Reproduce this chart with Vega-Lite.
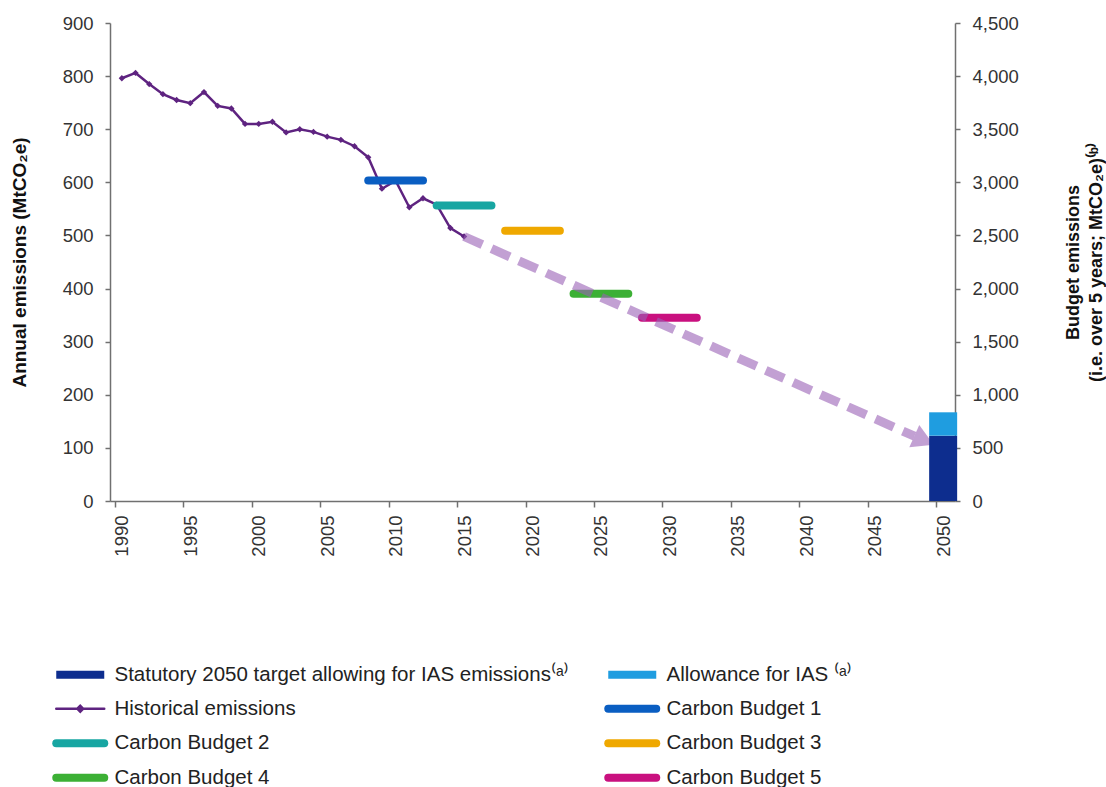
{
  "$schema": "https://vega.github.io/schema/vega-lite/v6.json",
  "width": 845,
  "height": 478,
  "autosize": {"type": "pad"},
  "padding": {"left": 10, "top": 14, "right": 2, "bottom": 2},
  "background": "white",
  "config": {
    "font": "Liberation Sans",
    "view": {"stroke": null},
    "axis": {
      "labelFont": "Liberation Sans",
      "labelFontSize": 18.5,
      "labelColor": "#333333",
      "titleFont": "Liberation Sans",
      "titleFontSize": 19,
      "titleFontWeight": "bold",
      "titleColor": "#111111",
      "domainColor": "#707070",
      "tickColor": "#707070",
      "domainWidth": 1.5,
      "tickWidth": 1.5,
      "grid": false
    }
  },
  "datasets": {
    "historical": [
      {"series": "Historical emissions", "year": 1990, "value": 796},
      {"series": "Historical emissions", "year": 1991, "value": 806},
      {"series": "Historical emissions", "year": 1992, "value": 785},
      {"series": "Historical emissions", "year": 1993, "value": 766},
      {"series": "Historical emissions", "year": 1994, "value": 755},
      {"series": "Historical emissions", "year": 1995, "value": 749},
      {"series": "Historical emissions", "year": 1996, "value": 770},
      {"series": "Historical emissions", "year": 1997, "value": 744},
      {"series": "Historical emissions", "year": 1998, "value": 739},
      {"series": "Historical emissions", "year": 1999, "value": 710},
      {"series": "Historical emissions", "year": 2000, "value": 710},
      {"series": "Historical emissions", "year": 2001, "value": 714},
      {"series": "Historical emissions", "year": 2002, "value": 694},
      {"series": "Historical emissions", "year": 2003, "value": 700},
      {"series": "Historical emissions", "year": 2004, "value": 695},
      {"series": "Historical emissions", "year": 2005, "value": 686},
      {"series": "Historical emissions", "year": 2006, "value": 680},
      {"series": "Historical emissions", "year": 2007, "value": 668},
      {"series": "Historical emissions", "year": 2008, "value": 647},
      {"series": "Historical emissions", "year": 2009, "value": 588},
      {"series": "Historical emissions", "year": 2010, "value": 603},
      {"series": "Historical emissions", "year": 2011, "value": 553},
      {"series": "Historical emissions", "year": 2012, "value": 570},
      {"series": "Historical emissions", "year": 2013, "value": 558},
      {"series": "Historical emissions", "year": 2014, "value": 514},
      {"series": "Historical emissions", "year": 2015, "value": 498}
    ],
    "budgets": [
      {"series": "Carbon Budget 1", "start": 2008, "end": 2012, "value": 603.6},
      {"series": "Carbon Budget 2", "start": 2013, "end": 2017, "value": 556.4},
      {"series": "Carbon Budget 3", "start": 2018, "end": 2022, "value": 508.8},
      {"series": "Carbon Budget 4", "start": 2023, "end": 2027, "value": 390},
      {"series": "Carbon Budget 5", "start": 2028, "end": 2032, "value": 345}
    ],
    "trajectory": [
      {"year": 2015, "value": 498},
      {"year": 2047.9, "value": 122}
    ],
    "arrowhead": [
      {"year": 2048.6, "value": 114}
    ],
    "target": [
      {"series": "Statutory 2050 target allowing for IAS emissions⁽ᵃ⁾", "year": 2050, "low": 0, "high": 615},
      {"series": "Allowance for IAS ⁽ᵃ⁾", "year": 2050, "low": 615, "high": 835}
    ]
  },
  "layer": [
    {
      "layer": [
        {
          "data": {"name": "historical"},
          "mark": {"type": "line", "strokeWidth": 2.5, "point": {"shape": "diamond", "size": 40, "filled": true}},
          "encoding": {
            "x": {"field": "year", "type": "quantitative", "scale": {"domain": [1989.5, 2050.5], "nice": false, "zero": false},
              "axis": {"title": null, "values": [1990, 1995, 2000, 2005, 2010, 2015, 2020, 2025, 2030, 2035, 2040, 2045, 2050], "format": "d", "labelAngle": 270, "labelAlign": "right", "labelBaseline": "middle", "tickSize": 6, "tickOffset": -7, "labelOffset": 7, "labelPadding": 8}},
            "y": {"field": "value", "type": "quantitative", "scale": {"domain": [0, 900], "nice": false},
              "axis": {"title": "Annual emissions (MtCO₂e)", "values": [0, 100, 200, 300, 400, 500, 600, 700, 800, 900], "tickSize": 5, "labelPadding": 12, "titlePadding": 33}},
            "color": {"field": "series", "type": "nominal",
              "scale": {
                "domain": ["Statutory 2050 target allowing for IAS emissions⁽ᵃ⁾", "Historical emissions", "Carbon Budget 2", "Carbon Budget 4", "Allowance for IAS ⁽ᵃ⁾", "Carbon Budget 1", "Carbon Budget 3", "Carbon Budget 5"],
                "range": ["#0d2d8e", "#5e2380", "#17a6a2", "#3cb035", "#1f9de0", "#0a5ec2", "#efa800", "#c9107f"]
              },
              "legend": {
                "orient": "none", "legendX": -40, "legendY": 641, "columns": 2, "title": null, "padding": 0,
                "columnPadding": 23, "rowPadding": 1.5, "labelFont": "Liberation Sans", "labelFontSize": 20.5, "labelColor": "#222222",
                "labelLimit": 800, "labelOffset": 24, "symbolType": "stroke", "symbolSize": 2304, "symbolStrokeWidth": 8, "symbolOpacity": 1,
                "encode": {"symbols": {"update": {
                  "shape": {"signal": "datum.value === 'Historical emissions' ? 'M-1,0L1,0M-0.12,0L0,-0.12L0.12,0L0,0.12Z' : 'stroke'"},
                  "strokeWidth": {"signal": "datum.value === 'Historical emissions' ? 2.5 : 8"},
                  "strokeCap": {"signal": "datum.value === 'Historical emissions' || indexof(datum.value, 'Carbon') === 0 ? 'round' : 'butt'"},
                  "stroke": {"scale": "color", "field": "value"},
                  "fill": {"scale": "color", "field": "value"}
                }}}
              }
            }
          }
        },
        {
          "data": {"name": "budgets"},
          "mark": {"type": "rule", "strokeWidth": 8, "strokeCap": "round"},
          "encoding": {
            "x": {"field": "start", "type": "quantitative", "scale": {"domain": [1989.5, 2050.5], "nice": false, "zero": false},
              "axis": {"title": null, "values": [1990, 1995, 2000, 2005, 2010, 2015, 2020, 2025, 2030, 2035, 2040, 2045, 2050], "format": "d", "labelAngle": 270, "labelAlign": "right", "labelBaseline": "middle", "tickSize": 6, "tickOffset": -7, "labelOffset": 7, "labelPadding": 8}},
            "x2": {"field": "end"},
            "y": {"field": "value", "type": "quantitative", "scale": {"domain": [0, 900], "nice": false},
              "axis": {"title": "Annual emissions (MtCO₂e)", "values": [0, 100, 200, 300, 400, 500, 600, 700, 800, 900], "tickSize": 5, "labelPadding": 12, "titlePadding": 33}},
            "color": {"field": "series", "type": "nominal",
              "scale": {
                "domain": ["Statutory 2050 target allowing for IAS emissions⁽ᵃ⁾", "Historical emissions", "Carbon Budget 2", "Carbon Budget 4", "Allowance for IAS ⁽ᵃ⁾", "Carbon Budget 1", "Carbon Budget 3", "Carbon Budget 5"],
                "range": ["#0d2d8e", "#5e2380", "#17a6a2", "#3cb035", "#1f9de0", "#0a5ec2", "#efa800", "#c9107f"]
              },
              "legend": {
                "orient": "none", "legendX": -40, "legendY": 641, "columns": 2, "title": null, "padding": 0,
                "columnPadding": 23, "rowPadding": 1.5, "labelFont": "Liberation Sans", "labelFontSize": 20.5, "labelColor": "#222222",
                "labelLimit": 800, "labelOffset": 24, "symbolType": "stroke", "symbolSize": 2304, "symbolStrokeWidth": 8, "symbolOpacity": 1,
                "encode": {"symbols": {"update": {
                  "shape": {"signal": "datum.value === 'Historical emissions' ? 'M-1,0L1,0M-0.12,0L0,-0.12L0.12,0L0,0.12Z' : 'stroke'"},
                  "strokeWidth": {"signal": "datum.value === 'Historical emissions' ? 2.5 : 8"},
                  "strokeCap": {"signal": "datum.value === 'Historical emissions' || indexof(datum.value, 'Carbon') === 0 ? 'round' : 'butt'"},
                  "stroke": {"scale": "color", "field": "value"},
                  "fill": {"scale": "color", "field": "value"}
                }}}
              }
            }
          }
        },
        {
          "data": {"name": "trajectory"},
          "mark": {"type": "line", "color": "#9a60b6", "opacity": 0.6, "strokeWidth": 9, "strokeDash": [20, 10]},
          "encoding": {
            "x": {"field": "year", "type": "quantitative", "scale": {"domain": [1989.5, 2050.5], "nice": false, "zero": false},
              "axis": {"title": null, "values": [1990, 1995, 2000, 2005, 2010, 2015, 2020, 2025, 2030, 2035, 2040, 2045, 2050], "format": "d", "labelAngle": 270, "labelAlign": "right", "labelBaseline": "middle", "tickSize": 6, "tickOffset": -7, "labelOffset": 7, "labelPadding": 8}},
            "y": {"field": "value", "type": "quantitative", "scale": {"domain": [0, 900], "nice": false},
              "axis": {"title": "Annual emissions (MtCO₂e)", "values": [0, 100, 200, 300, 400, 500, 600, 700, 800, 900], "tickSize": 5, "labelPadding": 12, "titlePadding": 33}}
          }
        },
        {
          "data": {"name": "arrowhead"},
          "mark": {"type": "point", "shape": "triangle-right", "filled": true, "size": 600, "angle": 24, "color": "#9a60b6", "opacity": 0.6},
          "encoding": {
            "x": {"field": "year", "type": "quantitative", "scale": {"domain": [1989.5, 2050.5], "nice": false, "zero": false},
              "axis": {"title": null, "values": [1990, 1995, 2000, 2005, 2010, 2015, 2020, 2025, 2030, 2035, 2040, 2045, 2050], "format": "d", "labelAngle": 270, "labelAlign": "right", "labelBaseline": "middle", "tickSize": 6, "tickOffset": -7, "labelOffset": 7, "labelPadding": 8}},
            "y": {"field": "value", "type": "quantitative", "scale": {"domain": [0, 900], "nice": false},
              "axis": {"title": "Annual emissions (MtCO₂e)", "values": [0, 100, 200, 300, 400, 500, 600, 700, 800, 900], "tickSize": 5, "labelPadding": 12, "titlePadding": 33}}
          }
        }
      ]
    },
    {
      "data": {"name": "target"},
      "mark": {"type": "bar", "width": 28, "xOffset": 0},
      "encoding": {
        "x": {"field": "year", "type": "quantitative", "scale": {"domain": [1989.5, 2050.5], "nice": false, "zero": false},
          "axis": {"title": null, "values": [1990, 1995, 2000, 2005, 2010, 2015, 2020, 2025, 2030, 2035, 2040, 2045, 2050], "format": "d", "labelAngle": 270, "labelAlign": "right", "labelBaseline": "middle", "tickSize": 6, "tickOffset": -7, "labelOffset": 7, "labelPadding": 8}},
        "y": {"field": "low", "type": "quantitative", "scale": {"domain": [0, 4500], "nice": false},
          "axis": {"orient": "right", "title": ["Budget emissions", "(i.e. over 5 years; MtCO₂e)⁽ᵇ⁾"], "values": [0, 500, 1000, 1500, 2000, 2500, 3000, 3500, 4000, 4500], "format": ",.0f", "tickSize": 5, "labelPadding": 12, "titleAngle": 270, "titleBaseline": "top", "titlePadding": 23, "titleFontSize": 18, "titleLineHeight": 23}},
        "y2": {"field": "high"},
        "color": {"field": "series", "type": "nominal",
          "scale": {
            "domain": ["Statutory 2050 target allowing for IAS emissions⁽ᵃ⁾", "Historical emissions", "Carbon Budget 2", "Carbon Budget 4", "Allowance for IAS ⁽ᵃ⁾", "Carbon Budget 1", "Carbon Budget 3", "Carbon Budget 5"],
            "range": ["#0d2d8e", "#5e2380", "#17a6a2", "#3cb035", "#1f9de0", "#0a5ec2", "#efa800", "#c9107f"]
          },
          "legend": {
            "orient": "none", "legendX": -40, "legendY": 641, "columns": 2, "title": null, "padding": 0,
            "columnPadding": 23, "rowPadding": 1.5, "labelFont": "Liberation Sans", "labelFontSize": 20.5, "labelColor": "#222222",
            "labelLimit": 800, "labelOffset": 24, "symbolType": "stroke", "symbolSize": 2304, "symbolStrokeWidth": 8, "symbolOpacity": 1,
            "encode": {"symbols": {"update": {
              "shape": {"signal": "datum.value === 'Historical emissions' ? 'M-1,0L1,0M-0.12,0L0,-0.12L0.12,0L0,0.12Z' : 'stroke'"},
              "strokeWidth": {"signal": "datum.value === 'Historical emissions' ? 2.5 : 8"},
              "strokeCap": {"signal": "datum.value === 'Historical emissions' || indexof(datum.value, 'Carbon') === 0 ? 'round' : 'butt'"},
              "stroke": {"scale": "color", "field": "value"},
              "fill": {"scale": "color", "field": "value"}
            }}}
          }
        }
      }
    }
  ],
  "resolve": {"scale": {"y": "independent"}}
}
